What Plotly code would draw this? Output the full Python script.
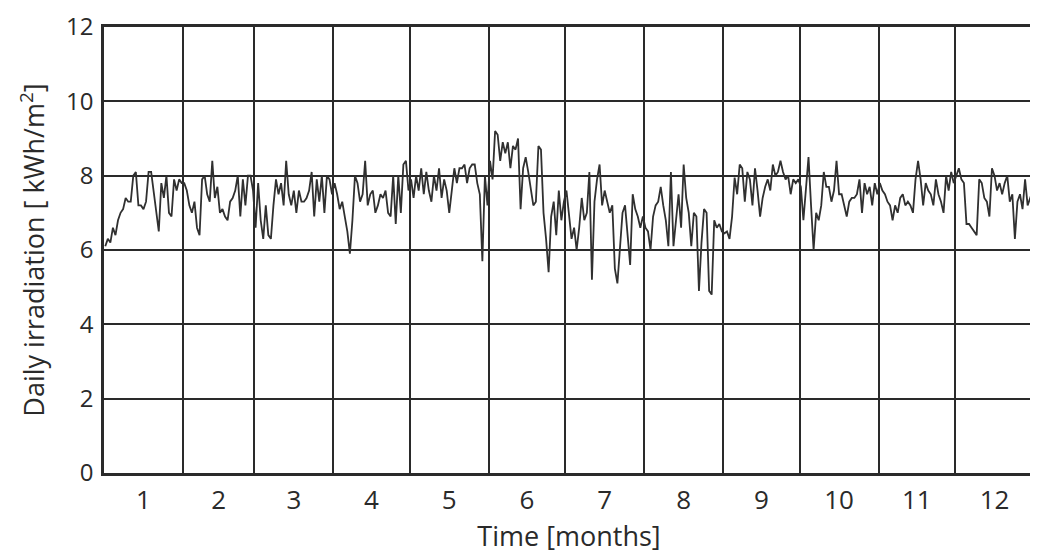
import plotly.graph_objects as go

months = [str(i) for i in range(1, 13)]
month_days = [31, 28, 31, 30, 31, 30, 31, 31, 30, 31, 30, 31]

m1 = [6.1, 6.3, 6.2, 6.6, 6.4, 6.8, 7.0, 7.1, 7.4, 7.3, 7.3, 8.0, 8.1, 7.2, 7.2, 7.1, 7.3, 8.1, 8.1, 7.6,
      7.0, 6.5, 7.8, 7.4, 8.0, 7.0, 6.9, 7.9, 7.6, 7.9, 7.8]
m2 = [7.8, 7.6, 7.2, 7.0, 7.3, 6.6, 6.4, 7.9, 8.0, 7.5, 7.3, 8.4, 7.4, 7.7, 7.0, 7.1, 6.9, 6.8, 7.3, 7.4,
      7.6, 8.0, 6.9, 7.9, 7.2, 8.0, 8.0, 7.6]
m3 = [6.6, 7.8, 6.8, 6.3, 7.2, 6.4, 6.3, 7.2, 7.9, 7.5, 7.8, 7.2, 8.4, 7.5, 7.2, 7.6, 7.0, 7.6, 7.3, 7.3,
      7.4, 7.6, 8.1, 6.9, 7.9, 7.3, 8.0, 7.0, 8.0, 7.9, 7.5]
m4 = [7.8, 7.5, 7.1, 7.3, 6.9, 6.5, 5.9, 6.8, 8.0, 7.8, 7.3, 7.5, 8.4, 7.2, 7.5, 7.6, 7.0, 7.2, 7.5, 7.4,
      7.6, 7.0, 6.9, 8.0, 6.7, 8.0, 7.0, 8.3, 8.4, 7.6]
m5 = [7.9, 7.4, 8.0, 7.6, 8.2, 7.5, 8.1, 7.6, 7.3, 8.0, 7.6, 8.2, 7.4, 7.9, 7.6, 7.0, 7.6, 8.2, 7.8, 8.2,
      8.2, 8.3, 7.8, 8.2, 8.3, 8.3, 7.8, 7.5, 5.7, 8.0, 7.2]
m6 = [8.4, 7.9, 9.2, 9.1, 8.4, 8.9, 8.6, 8.9, 8.2, 8.8, 8.7, 9.0, 7.1, 8.2, 8.5, 8.1, 7.6, 7.2, 7.3, 8.8,
      8.7, 7.0, 6.3, 5.4, 6.9, 7.3, 6.4, 7.6, 6.8, 7.3]
m7 = [7.6, 7.0, 6.3, 6.6, 6.0, 6.6, 7.4, 6.8, 7.0, 8.1, 5.2, 7.3, 7.9, 8.3, 7.2, 7.6, 7.3, 7.0, 7.2, 5.5,
      5.1, 6.2, 7.0, 7.2, 6.3, 5.6, 7.5, 7.1, 6.9, 6.6, 6.9]
m8 = [6.6, 6.5, 6.0, 6.9, 7.2, 7.3, 7.7, 7.2, 6.8, 6.1, 8.1, 6.1, 6.9, 7.5, 6.6, 8.3, 7.4, 7.0, 6.1, 7.0,
      6.9, 4.9, 6.2, 7.1, 7.0, 4.9, 4.8, 6.8, 6.6, 6.7, 6.5]
m9 = [6.45, 6.5, 6.3, 6.9, 7.95, 7.5, 8.3, 8.2, 7.3, 8.1, 7.9, 7.2, 8.2, 7.6, 6.9, 7.4, 7.7, 7.9, 7.6, 8.3,
      8.0, 8.1, 8.4, 8.1, 7.9, 8.0, 7.5, 7.9, 7.8, 7.9]
m10 = [7.7, 6.8, 7.6, 8.5, 7.2, 6.0, 7.0, 6.8, 7.2, 8.1, 7.7, 7.7, 7.3, 7.6, 8.4, 7.5, 7.5, 7.2, 6.9, 7.3,
       7.4, 7.4, 7.5, 7.9, 7.0, 7.8, 7.5, 7.7, 7.2, 7.8, 7.5]
m11 = [7.8, 7.6, 7.5, 7.3, 7.2, 6.8, 7.2, 7.0, 7.4, 7.5, 7.2, 7.3, 7.2, 7.0, 7.9, 8.4, 7.9, 7.2, 7.8, 7.6,
       7.5, 7.2, 7.9, 7.5, 7.3, 7.0, 8.0, 7.6, 8.1, 7.8]
m12 = [8.0, 8.2, 7.9, 7.8, 6.7, 6.7, 6.6, 6.5, 6.4, 7.9, 7.8, 7.4, 7.3, 6.9, 8.2, 8.0, 7.6, 7.8, 7.5, 7.8,
       8.0, 7.3, 7.5, 6.3, 7.3, 7.5, 7.1, 7.9, 7.2, 7.4, 7.6]

monthly = [m1, m2, m3, m4, m5, m6, m7, m8, m9, m10, m11, m12]
y_ticks = [0, 2, 4, 6, 8, 10, 12]

values = [v for m in monthly for v in m]
days = [i + 0.5 for i in range(len(values))]

bounds = [0]
for d in month_days:
    bounds.append(bounds[-1] + d)
centers = [(bounds[i] + bounds[i + 1]) / 2 for i in range(12)]

font_family = "Open Sans, Liberation Sans, sans-serif"
ink = "#2a2a2a"

fig = go.Figure()
fig.add_trace(go.Scatter(x=days, y=values, mode="lines",
                         line=dict(color="#303030", width=1.8), showlegend=False))

fig.update_layout(
    width=1030, height=550,
    margin=dict(l=96, r=4, t=19, b=85, autoexpand=False),
    paper_bgcolor="white", plot_bgcolor="white",
    font=dict(family=font_family, size=26, color=ink),
)
fig.update_xaxes(
    range=[0, bounds[-1]],
    tickmode="array", tickvals=centers, ticktext=months,
    showgrid=False, ticks="", ticklabelstandoff=2, ticklabeloverflow="allow",
    minor=dict(tickmode="array", tickvals=bounds, showgrid=True,
               gridcolor=ink, gridwidth=1.5, ticks=""),
    showline=True, linecolor=ink, linewidth=2.5, mirror=True,
    zeroline=False, automargin=False,
    title=dict(text="Time [months]", standoff=8, font=dict(size=27)),
)
fig.update_yaxes(
    range=[0, 12],
    tickmode="array", tickvals=y_ticks, ticktext=[str(v) for v in y_ticks],
    tickfont=dict(size=24),
    showgrid=True, gridcolor=ink, gridwidth=1.5, ticks="",
    showline=True, linecolor=ink, linewidth=2.5, mirror=True,
    zeroline=False, ticklabelstandoff=3, ticklabeloverflow="allow", automargin=False,
    title=dict(text="Daily irradiation [ kWh/m<sup>2</sup>]", standoff=14, font=dict(size=27)),
)

fig.write_html("out.html")
